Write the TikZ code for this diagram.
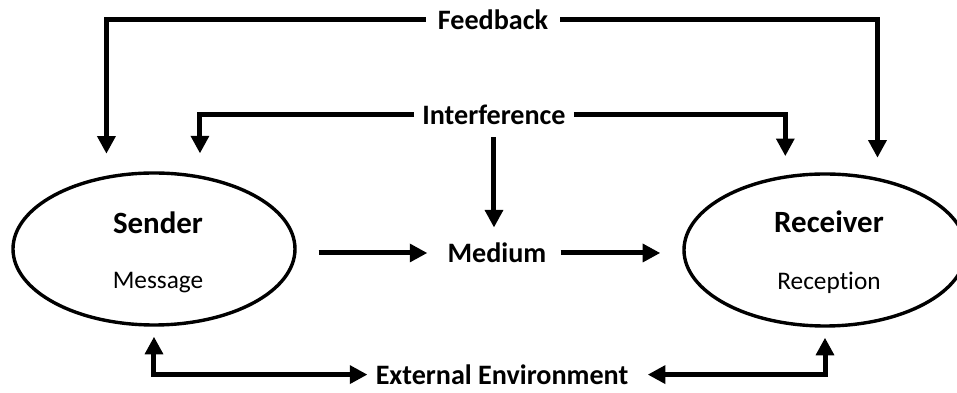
\documentclass[tikz,border=0pt]{standalone}
\usepackage{fontspec}
\setmainfont{Carlito}[Ligatures=CommonOff]
\usetikzlibrary{shapes.geometric, arrows.meta, positioning}

\begin{document}
\begin{tikzpicture}[node distance=2cm]
% Styles
\tikzstyle{party} = [ellipse, draw=black, line width=0.085cm, minimum width=7.05cm, minimum height=3.8cm]
\tikzstyle{partyname} = [font=\fontsize{22}{26}\selectfont\bfseries]
\tikzstyle{partytext} = [font=\fontsize{18}{22}\selectfont]
\tikzstyle{term} = [font=\fontsize{20}{24}\selectfont\bfseries, inner sep=0.2cm]
\tikzstyle{arrow} = [line width=0.125cm, ->, >={Triangle[width=0.44cm,length=0.44cm]}]

\useasboundingbox (-12.425,-3.5) rectangle (11.5,6.325);

% Nodes
\node (medium) [term] {Medium};
\node (sender) [party, left of=medium, node distance=8.575cm, yshift=0.1cm] {};
\node (receiver) [party, right of=medium, node distance=8.2cm, yshift=0.075cm] {};
\node (interference) [term, above of=medium, node distance=3.45cm, xshift=-0.075cm] {Interference};
\node (feedback) [term, above of=interference, node distance=2.375cm, xshift=-0.025cm] {Feedback};
\node (environment) [term, inner ysep=0.03cm, below of=medium, node distance=3.04cm, xshift=0.125cm] {External Environment};

\node (sender_name) [partyname, above of=sender, node distance=0.65cm, xshift=0.1cm] {Sender};
\node (sender_msg) [partytext, below of=sender, node distance=0.84cm, xshift=0.1cm] {Message};
\node (receiver_name) [partyname, above of=receiver, node distance=0.7cm, xshift=0.1cm] {Receiver};
\node (receiver_msg) [partytext, below of=receiver, node distance=0.82cm, xshift=0.1cm] {Reception};

% Arrows
\draw [arrow, shorten <=0.55cm, shorten >=0.3cm] (sender.east |- medium.west) -- (medium.west);
\draw [arrow, shorten <=0.15cm, shorten >=0.55cm] (medium.east) -- (medium.east -| receiver.west);
\draw [arrow, shorten <=0.1cm, shorten >=0.18cm] (interference.south) -- (interference.south |- medium.north);

% Top loops
\draw [arrow, shorten <=0.1cm, shorten >=0.55cm] (feedback.west) -| (sender.123);
\draw [arrow, shorten <=0.1cm, shorten >=0.5cm] (feedback.east) -| (receiver.54);
\draw [arrow, shorten >=0.55cm] (interference.west) -| (sender.58.6);
\draw [arrow, shorten >=0.48cm] (interference.east) -| (receiver.118);

% Bottom loops
\draw [arrow, <->, shorten <=0.25cm] (sender.south) |- (environment.west);
\draw [arrow, <->, shorten <=0.25cm, shorten >=0.28cm] (receiver.south) |- (environment.east);
\end{tikzpicture}
\end{document}
